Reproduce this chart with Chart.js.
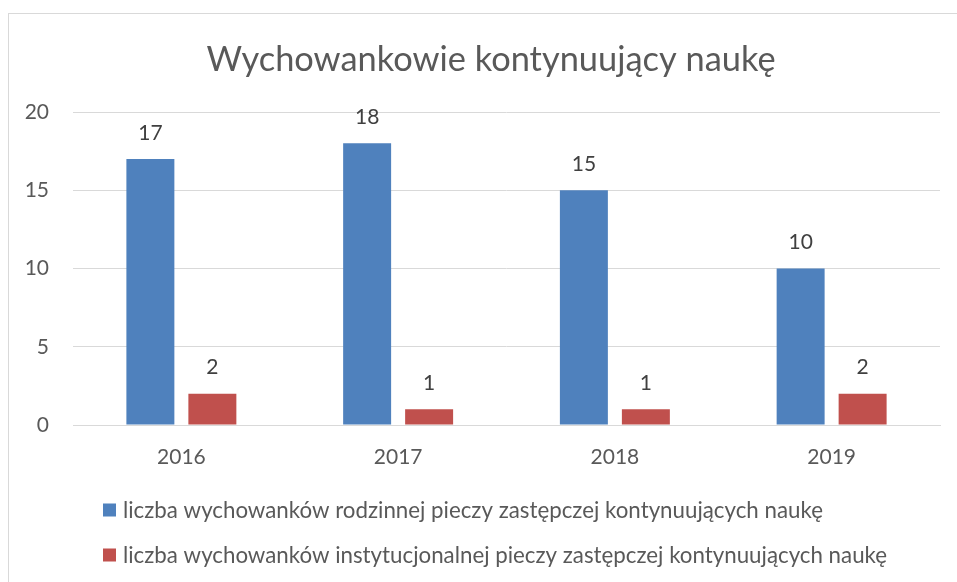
<!DOCTYPE html>
<html>
<head>
<meta charset="utf-8">
<script src="https://cdn.jsdelivr.net/npm/chart.js@4/dist/chart.umd.min.js"></script>
<style>
    html, body { margin: 0; padding: 0; background: #fff; overflow: hidden; }
    #frame { position: absolute; left: 8px; top: 13px; width: 964px; height: 600px; border: 1px solid #d9d9d9; }
</style>
</head>
<body>
<div id="frame"><canvas id="barchart" width="964" height="600"></canvas></div>
<script>
"use strict";

// Data
const years = ['2016', '2017', '2018', '2019'];
const rodzinnaValues = [17, 18, 15, 10];
const instytucjonalnaValues = [2, 1, 1, 2];
const seriesLabels = [
    'liczba wychowanków rodzinnej pieczy zastępczej kontynuujących naukę',
    'liczba wychowanków instytucjonalnej pieczy zastępczej kontynuujących naukę'
];
const chartTitle = 'Wychowankowie kontynuujący naukę';
const yMin = 0;
const yMax = 20;
const yStep = 5;

const textGrey = '#595959';
Chart.defaults.font.family = 'Lato, "Open Sans", sans-serif';

// Title centred on the whole chart box, not on the plot
const boxTitle = {
    id: 'boxTitle',
    afterDraw(chart) {
        const ctx = chart.ctx;
        ctx.save();
        ctx.font = '34.4px Lato, sans-serif';
        ctx.fillStyle = textGrey;
        ctx.textAlign = 'center';
        ctx.textBaseline = 'middle';
        ctx.fillText(chartTitle, chart.width / 2, 46);
        ctx.restore();
    }
};

// Numbers above each bar
const barValueLabels = {
    id: 'barValueLabels',
    afterDatasetsDraw(chart) {
        const ctx = chart.ctx;
        ctx.save();
        ctx.font = '21px Lato, sans-serif';
        ctx.fillStyle = '#404040';
        ctx.textAlign = 'center';
        ctx.textBaseline = 'middle';
        chart.data.datasets.forEach((ds, i) => {
            chart.getDatasetMeta(i).data.forEach((bar, j) => {
                ctx.fillText(String(ds.data[j]), bar.x, bar.y - 26);
            });
        });
        ctx.restore();
    }
};

// Legend as a left aligned list under the axis
const listLegend = {
    id: 'listLegend',
    afterDraw(chart) {
        const ctx = chart.ctx;
        const area = chart.chartArea;
        ctx.save();
        ctx.font = '22.3px Lato, sans-serif';
        ctx.textBaseline = 'middle';
        ctx.textAlign = 'left';
        chart.data.datasets.forEach((ds, i) => {
            const x = area.left + 30;
            const y = area.bottom + 85 + i * 45;
            ctx.fillStyle = ds.backgroundColor;
            ctx.fillRect(x, y - 6.5, 13, 13);
            ctx.fillStyle = textGrey;
            ctx.fillText(ds.label, x + 20, y + 1);
        });
        ctx.restore();
    }
};

new Chart(document.getElementById('barchart'), {
    type: 'bar',
    data: {
        labels: years,
        datasets: [
            {
                label: seriesLabels[0],
                data: rodzinnaValues,
                backgroundColor: '#4F81BD'
            },
            {
                label: seriesLabels[1],
                data: instytucjonalnaValues,
                backgroundColor: '#C0504D'
            }
        ]
    },
    options: {
        responsive: false,
        animation: false,
        categoryPercentage: 0.572,
        barPercentage: 0.774,
        layout: {
            padding: { left: 0, right: 33, top: 98, bottom: 145 }
        },
        scales: {
            x: {
                grid: { display: false, drawTicks: false },
                border: { color: '#d9d9d9' },
                ticks: { color: textGrey, padding: 20, font: { size: 21 } },
                afterFit(scale) { scale.height = 44; }
            },
            y: {
                min: yMin,
                max: yMax,
                grid: { color: '#d9d9d9', drawTicks: false },
                border: { display: false },
                ticks: { stepSize: yStep, color: textGrey, padding: 24, font: { size: 21 } },
                afterFit(scale) { scale.width = 64; }
            }
        },
        plugins: {
            legend: { display: false },
            tooltip: { enabled: false },
            title: { display: false }
        }
    },
    plugins: [boxTitle, barValueLabels, listLegend]
});
</script>
</body>
</html>
